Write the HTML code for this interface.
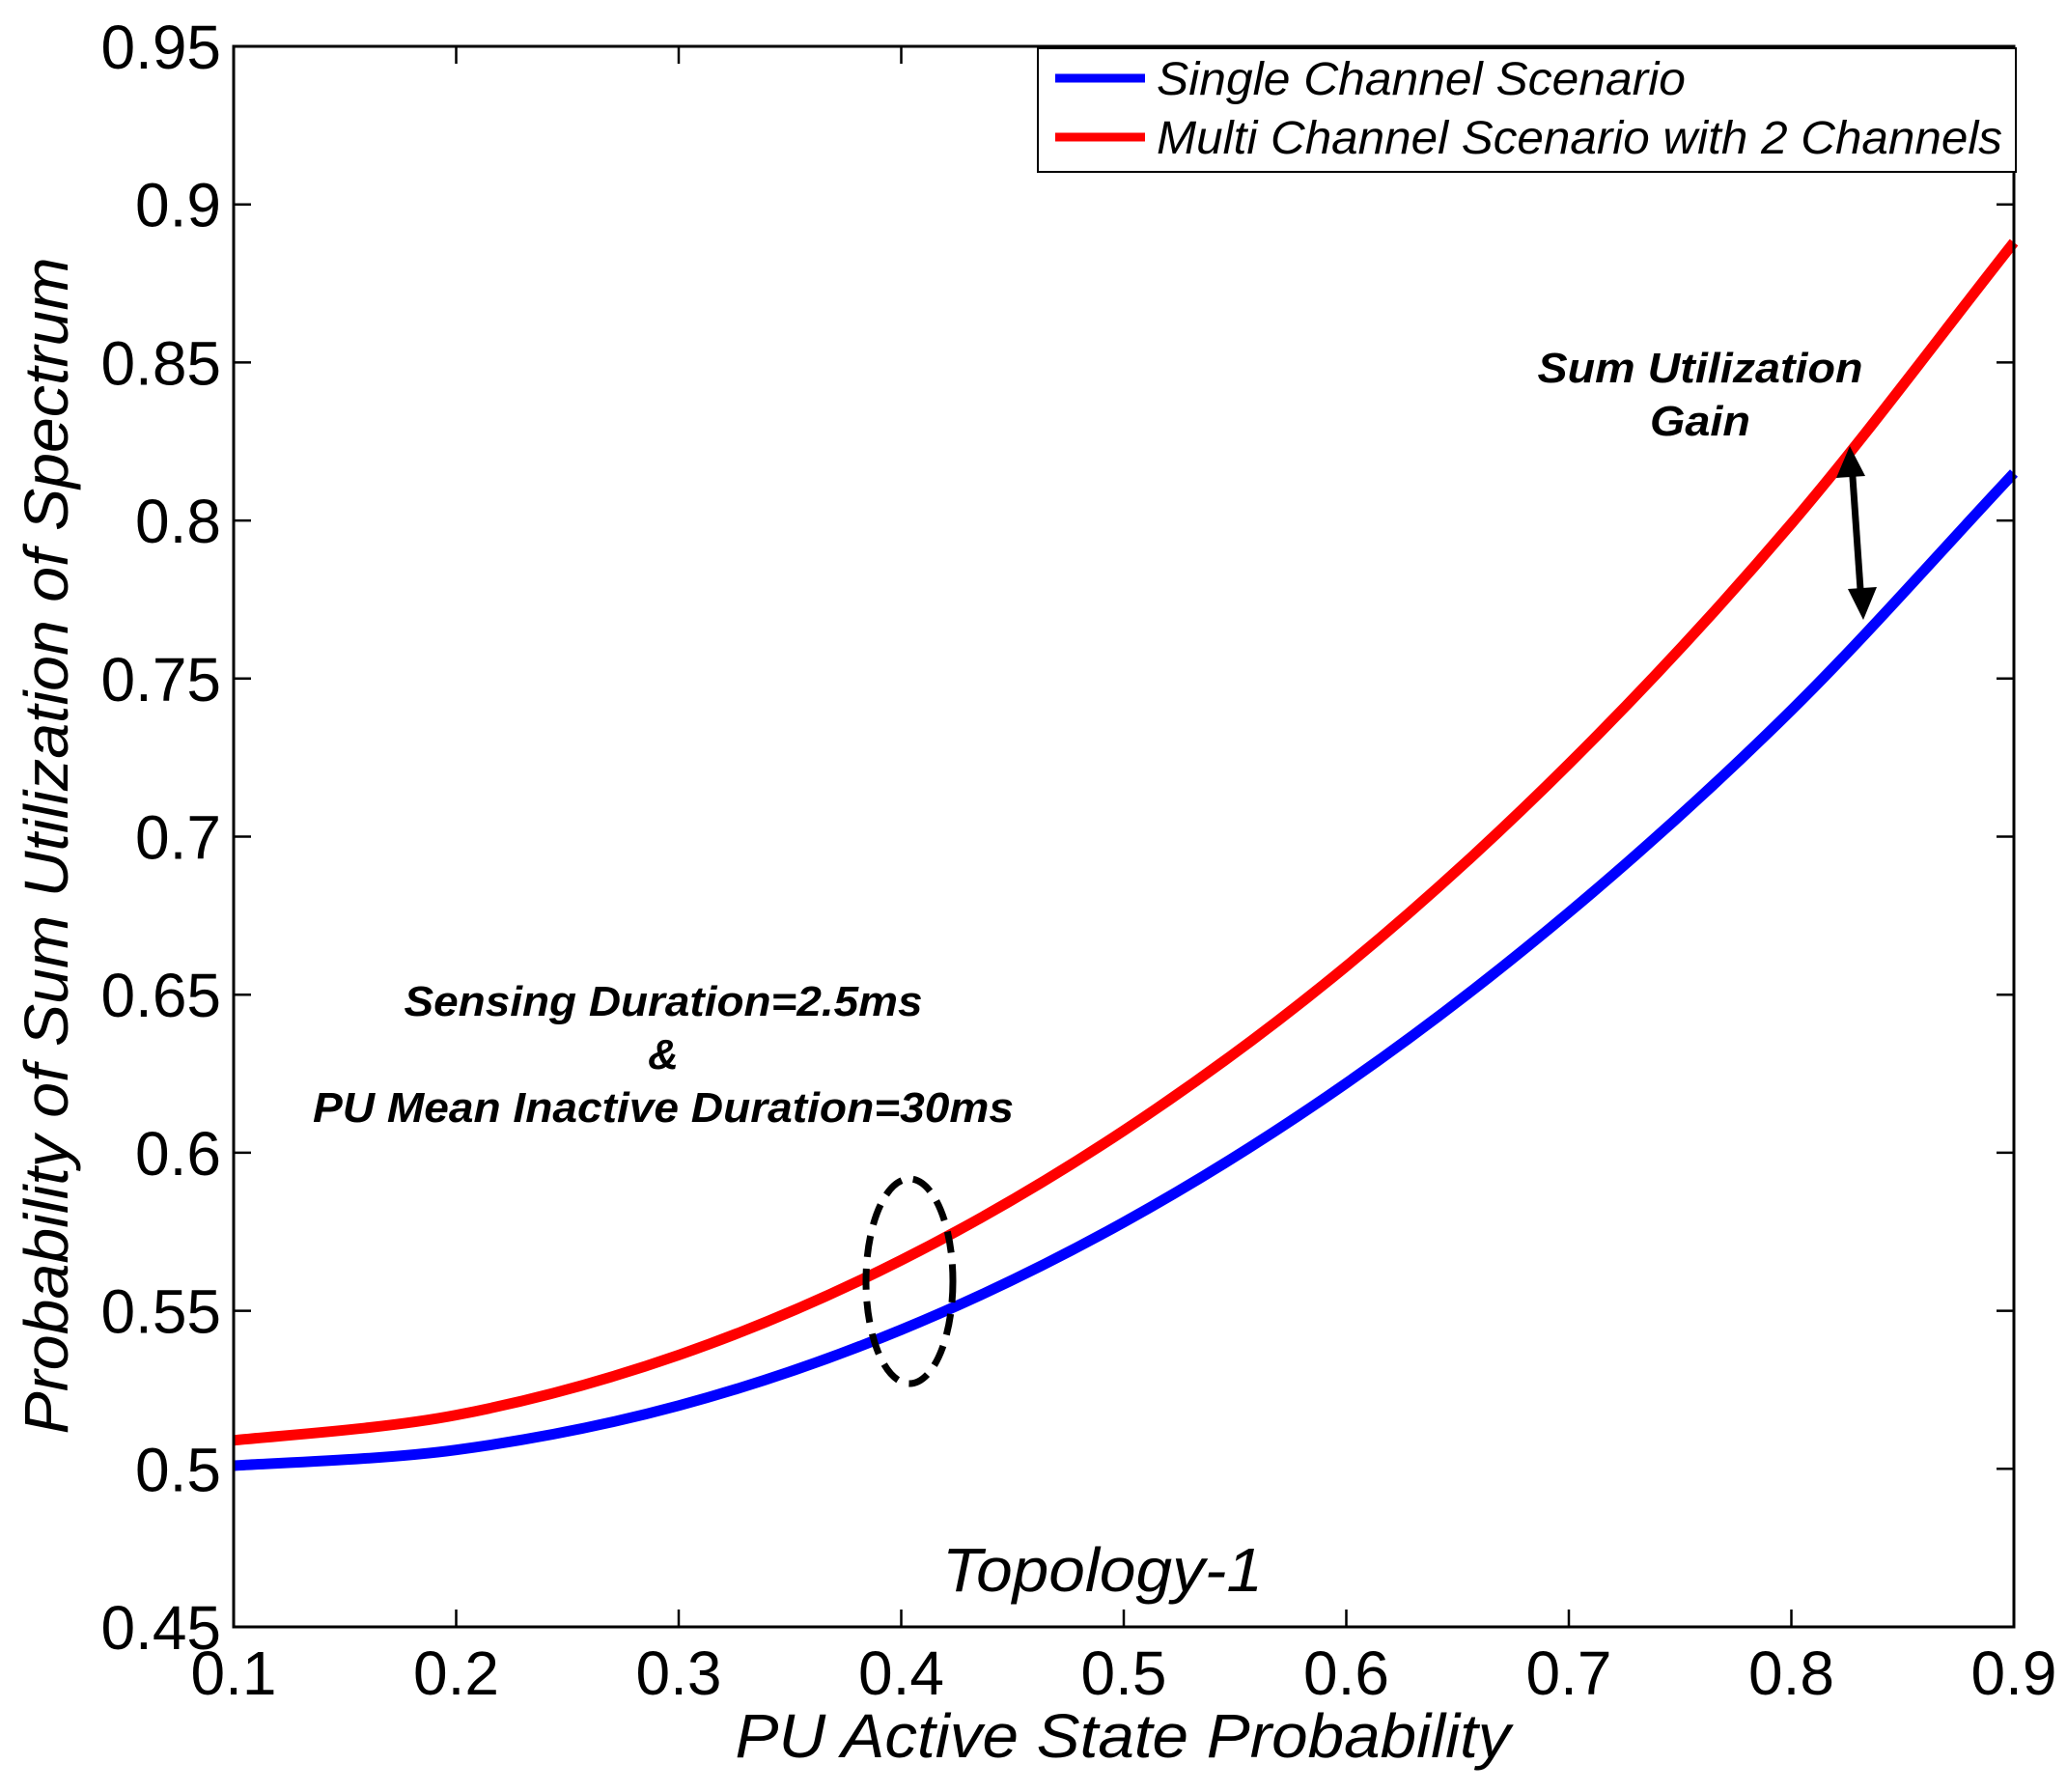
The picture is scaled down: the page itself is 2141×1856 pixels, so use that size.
<!DOCTYPE html>
<html><head><meta charset="utf-8"><style>html,body{margin:0;padding:0;background:#fff}</style></head>
<body>
<svg id="s" xmlns="http://www.w3.org/2000/svg" width="2141" height="1851" viewBox="0 0 2141 1851" font-family="Liberation Sans, sans-serif">
<rect width="2141" height="1851" fill="#fff"/>
<g id="ticks" stroke="#000" stroke-width="2.5"></g>
<g id="labels" font-size="64" fill="#000"></g>
<path id="blue" fill="none" stroke="#0000ff" stroke-width="11"/>
<path id="red" fill="none" stroke="#ff0000" stroke-width="11"/>
<rect x="242" y="48" width="1844" height="1637" fill="none" stroke="#000" stroke-width="3"/>
<rect x="1075" y="50" width="1013" height="128" fill="#fff" stroke="#000" stroke-width="2"/>
<line x1="1093" y1="81" x2="1186" y2="81" stroke="#0000ff" stroke-width="9"/>
<line x1="1093" y1="142" x2="1186" y2="142" stroke="#ff0000" stroke-width="9"/>
<text x="1198" y="98" font-size="48" font-style="italic" textLength="548" lengthAdjust="spacingAndGlyphs">Single Channel Scenario</text>
<text x="1198" y="159" font-size="48" font-style="italic" textLength="876" lengthAdjust="spacingAndGlyphs">Multi Channel Scenario with 2 Channels</text>
<text x="1163" y="1820" font-size="64" font-style="italic" text-anchor="middle" textLength="803" lengthAdjust="spacingAndGlyphs">PU Active State Probability</text>
<text transform="translate(70,876) rotate(-90)" font-size="64" font-style="italic" text-anchor="middle" textLength="1219" lengthAdjust="spacingAndGlyphs">Probability of Sum Utilization of Spectrum</text>
<text x="1142" y="1648" font-size="64" font-style="italic" text-anchor="middle" textLength="332" lengthAdjust="spacingAndGlyphs">Topology-1</text>
<g font-size="44" font-weight="bold" font-style="italic" text-anchor="middle">
<text x="687" y="1052" textLength="537" lengthAdjust="spacingAndGlyphs">Sensing Duration=2.5ms</text>
<text x="687" y="1107">&amp;</text>
<text x="687" y="1162" textLength="726" lengthAdjust="spacingAndGlyphs">PU Mean Inactive Duration=30ms</text>
<text x="1761" y="396" textLength="337" lengthAdjust="spacingAndGlyphs">Sum Utilization</text>
<text x="1761" y="451" textLength="104" lengthAdjust="spacingAndGlyphs">Gain</text>
</g>
<ellipse cx="942" cy="1327" rx="45" ry="106" fill="none" stroke="#000" stroke-width="7" stroke-dasharray="22,12"/>
<line x1="1918" y1="480" x2="1928" y2="625" stroke="#000" stroke-width="7"/>
<polygon points="1916,462 1902,495 1932,493" fill="#000"/>
<polygon points="1930,642 1914,610 1944,608" fill="#000"/>
</svg>
<script>
var X=v=>242+(v-0.1)/0.8*1844, Y=v=>1685-(v-0.45)/0.5*1637;
var t=document.getElementById('ticks'),l=document.getElementById('labels'),ns='http://www.w3.org/2000/svg';
function add(p,tag,a,txt){var e=document.createElementNS(ns,tag);for(var k in a)e.setAttribute(k,a[k]);if(txt)e.textContent=txt;p.appendChild(e);}
for(var i=0;i<=8;i++){var v=0.1+i*0.1,x=X(v);
 add(t,'line',{x1:x,y1:1685,x2:x,y2:1667});add(t,'line',{x1:x,y1:48,x2:x,y2:66});
 add(l,'text',{x:x,y:1755,'text-anchor':'middle'},(Math.round(v*10)/10).toString());}
for(var i=0;i<=10;i++){var v=0.45+i*0.05,y=Y(v);
 add(t,'line',{x1:242,y1:y,x2:260,y2:y});add(t,'line',{x1:2086,y1:y,x2:2068,y2:y});
 add(l,'text',{x:229,y:y+23,'text-anchor':'end'},(Math.round(v*100)/100).toString());}
function path(d){var p=d.map((v,i)=>[X(0.1+i*0.1),Y(v)]);var s='M'+p[0];
 for(var i=0;i<p.length-1;i++){var p0=p[i-1]||p[i],p1=p[i],p2=p[i+1],p3=p[i+2]||[2*p2[0]-p1[0],2*p2[1]-p1[1]];
 s+=' C'+(p1[0]+(p2[0]-p0[0])/6)+','+(p1[1]+(p2[1]-p0[1])/6)+' '+(p2[0]-(p3[0]-p1[0])/6)+','+(p2[1]-(p3[1]-p1[1])/6)+' '+p2;}return s;}
document.getElementById('blue').setAttribute('d',path([0.501,0.506,0.520,0.544,0.578,0.622,0.676,0.740,0.815]));
document.getElementById('red').setAttribute('d',path([0.509,0.517,0.536,0.566,0.607,0.659,0.723,0.799,0.888]));
</script>
</body></html>
